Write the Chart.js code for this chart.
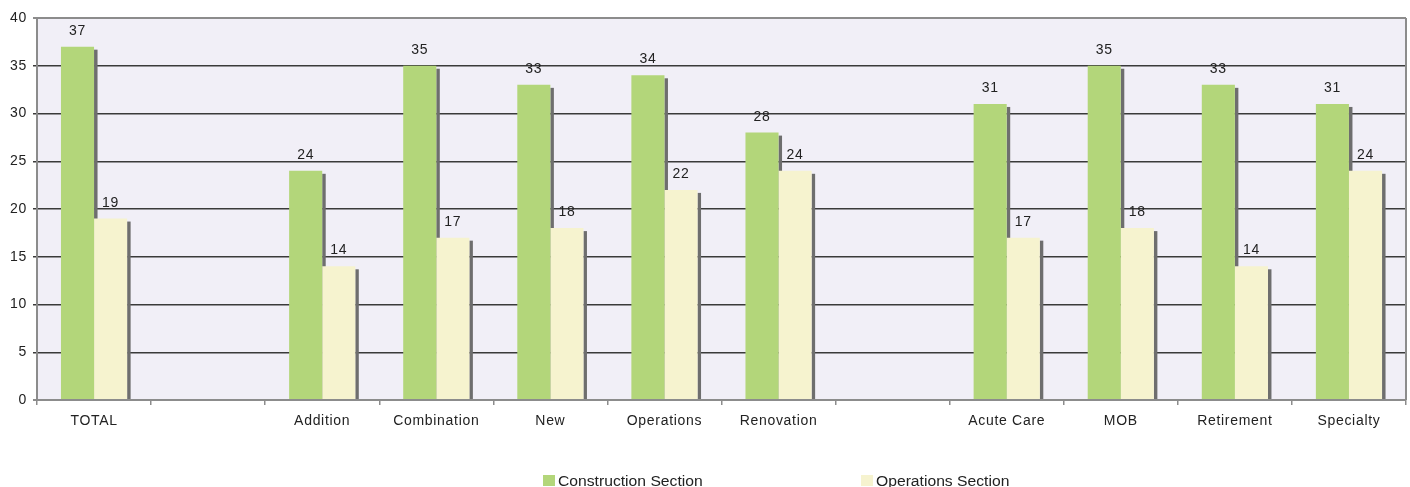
<!DOCTYPE html>
<html>
<head>
<meta charset="utf-8">
<script src="https://cdn.jsdelivr.net/npm/chart.js@4.4.0/dist/chart.umd.min.js"></script>
<style>
  html, body { margin: 0; padding: 0; background: #fff; }
  #wrap { position: relative; width: 1410px; height: 487px; }
  #legend { position: absolute; top: 473px; left: 0; font: 14px "Liberation Sans", Arial, sans-serif; color: #222; }
  .item { position: absolute; white-space: nowrap; line-height: 16px; }
  .txt { display: inline-block; transform: scaleX(1.12); transform-origin: left center; }
  .box { position: absolute; top: 2px; left: -15px; width: 12px; height: 11px; }
</style>
</head>
<body>
<div id="wrap">
  <canvas id="survey-chart" width="1410" height="487"></canvas>
  <div id="legend"></div>
</div>
<script>
// categories (blank slots are the gaps between groups)
const categories = ['TOTAL', '', 'Addition', 'Combination', 'New', 'Operations', 'Renovation', '', 'Acute Care', 'MOB', 'Retirement', 'Specialty'];
const construction = [37, null, 24, 35, 33, 34, 28, null, 31, 35, 33, 31];
const operations = [19, null, 14, 17, 18, 22, 24, null, 17, 18, 14, 24];
const yTicks = [0, 5, 10, 15, 20, 25, 30, 35, 40];
const seriesNames = ['Construction Section', 'Operations Section'];
const seriesColors = ['#b3d67a', '#f6f3cf'];

const FONT = '"Liberation Sans", Arial, sans-serif';
const SPACING = '0.7px';

// plot background, bar shadows, right frame and value labels
const frame = {
  id: 'frame',
  beforeUpdate(chart) {
    chart.ctx.letterSpacing = SPACING;
  },
  beforeDraw(chart) {
    const a = chart.chartArea, ctx = chart.ctx;
    ctx.letterSpacing = SPACING;
    ctx.save();
    ctx.fillStyle = '#f1eff7';
    ctx.fillRect(a.left, a.top, a.right - a.left, a.bottom - a.top);
    ctx.restore();
  },
  beforeDatasetsDraw(chart) {
    const ctx = chart.ctx;
    ctx.save();
    ctx.fillStyle = '#6e6e6e';
    chart.data.datasets.forEach((ds, i) => {
      chart.getDatasetMeta(i).data.forEach((bar, j) => {
        if (ds.data[j] == null) return;
        const right = bar.x + bar.width / 2;
        ctx.fillRect(right, bar.y + 3, 3.5, bar.base - bar.y - 3);
      });
    });
    ctx.restore();
  },
  afterDatasetsDraw(chart) {
    const a = chart.chartArea, ctx = chart.ctx;
    ctx.save();
    ctx.strokeStyle = '#8c8c8c';
    ctx.lineWidth = 2;
    ctx.beginPath();
    ctx.moveTo(a.right, a.top);
    ctx.lineTo(a.right, a.bottom);
    ctx.stroke();
    ctx.fillStyle = '#222';
    ctx.font = '14px ' + FONT;
    ctx.textAlign = 'center';
    ctx.textBaseline = 'alphabetic';
    chart.data.datasets.forEach((ds, i) => {
      chart.getDatasetMeta(i).data.forEach((bar, j) => {
        if (ds.data[j] == null) return;
        ctx.fillText(String(ds.data[j]), bar.x, bar.y - 12);
      });
    });
    ctx.restore();
  }
};

const ctx = document.getElementById('survey-chart').getContext('2d');
const myChart = new Chart(ctx, {
  type: 'bar',
  data: {
    labels: categories,
    datasets: [{
      label: seriesNames[0],
      data: construction,
      backgroundColor: seriesColors[0],
      borderWidth: 0
    }, {
      label: seriesNames[1],
      data: operations,
      backgroundColor: seriesColors[1],
      borderWidth: 0
    }]
  },
  options: {
    responsive: false,
    animation: false,
    categoryPercentage: 0.58,
    barPercentage: 1.0,
    layout: { padding: { top: 18, right: 4, left: 0, bottom: 0 } },
    scales: {
      x: {
        grid: { drawOnChartArea: false, tickLength: 5, color: '#8c8c8c', lineWidth: 1.5 },
        border: { color: '#8c8c8c', width: 2 },
        ticks: { color: '#222', font: { family: FONT, size: 14 }, padding: 8, maxRotation: 0, autoSkip: false },
        afterFit(scale) { scale.height = 87; }
      },
      y: {
        min: 0,
        max: 40,
        afterBuildTicks(scale) { scale.ticks = yTicks.map(v => ({ value: v })); },
        grid: {
          tickLength: 4,
          color: c => (c.tick && (c.tick.value === 0 || c.tick.value === 40)) ? '#8c8c8c' : '#3a3a3a',
          lineWidth: c => (c.tick && (c.tick.value === 0 || c.tick.value === 40)) ? 2 : 1.5
        },
        border: { color: '#8c8c8c', width: 2 },
        ticks: { color: '#222', font: { family: FONT, size: 14 }, padding: 6 },
        afterFit(scale) { scale.width = 37; }
      }
    },
    plugins: {
      legend: { display: false },
      tooltip: { enabled: false }
    }
  },
  plugins: [frame]
});

// legend below the chart
const legend = document.getElementById('legend');
const legendX = [558, 876];
seriesNames.forEach((name, i) => {
  const item = document.createElement('div');
  item.className = 'item';
  item.style.left = legendX[i] + 'px';
  item.innerHTML = '<span class="box" style="background:' + seriesColors[i] + '"></span><span class="txt">' + name + '</span>';
  legend.appendChild(item);
});
</script>
</body>
</html>
